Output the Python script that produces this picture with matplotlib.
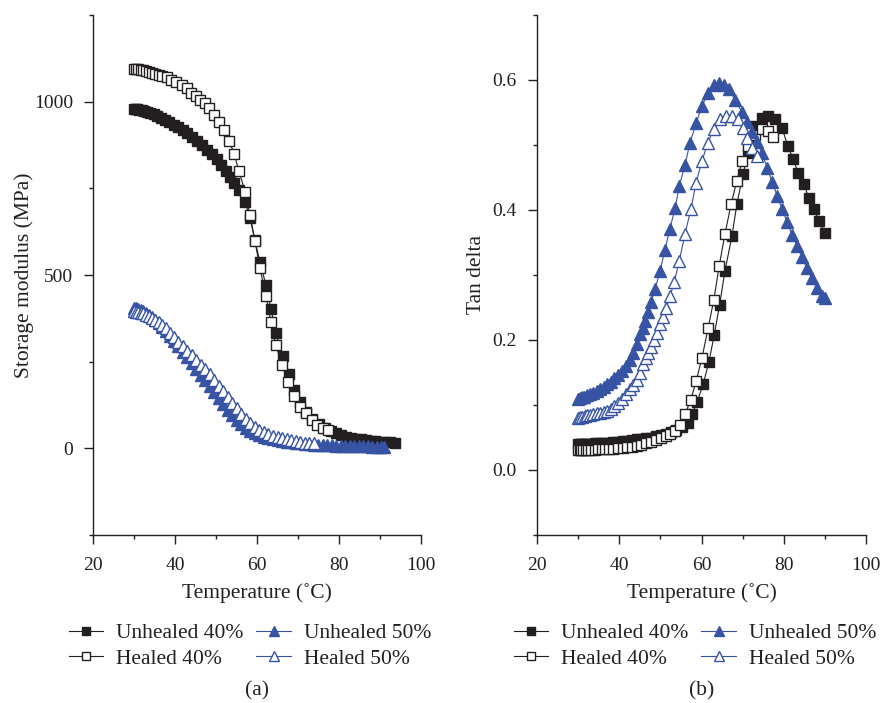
"""DMA curves: storage modulus (a) and tan delta (b) for unhealed/healed samples."""

import matplotlib

matplotlib.use("Agg")

import matplotlib.pyplot as plt  # noqa: E402
from matplotlib.ticker import MultipleLocator  # noqa: E402

plt.rcParams["font.family"] = ["Liberation Serif", "DejaVu Serif"]
plt.rcParams["font.size"] = 14

INK = "#231f20"
BLUE = "#3753a4"

LABELS = ["Unhealed 40%", "Healed 40%", "Unhealed 50%", "Healed 50%"]

# ---- (a) storage modulus, MPa ----
t_e_u40 = [30.0, 30.4, 30.8, 31.3, 31.9, 32.5, 33.2, 34.0, 34.8, 35.7, 36.6, 37.6,
           38.6, 39.7, 40.8, 41.9, 43.0, 44.2, 45.4, 46.6, 47.8, 49.0, 50.2, 51.3,
           52.4, 53.4, 54.5, 55.6, 57.1, 58.3, 59.5, 60.7, 62.2, 63.4, 64.6, 66.3,
           67.8, 69.0, 70.5, 72.0, 73.4, 75.0, 76.5, 78.0, 79.3, 80.5, 81.7, 82.9,
           84.1, 85.3, 86.5, 87.7, 88.9, 90.1, 91.3, 92.5, 93.7]
e_u40 = [980, 979, 978, 977, 975, 973, 970, 967, 963, 958, 953, 947,
         941, 934, 926, 918, 909, 898, 887, 875, 862, 848, 834, 818,
         800, 782, 765, 745, 711, 665, 600, 538, 470, 402, 332, 266,
         214, 168, 133, 105, 85, 70, 58, 49, 43, 38, 34, 31,
         28, 26, 24, 22, 21, 19, 18, 17, 16]

t_e_h40 = [30.0, 30.5, 31.0, 31.6, 32.2, 32.9, 33.6, 34.4, 35.2, 36.0, 36.9, 38.0,
           39.1, 40.3, 41.6, 42.9, 44.0, 45.1, 46.1, 47.2, 48.3, 49.5, 50.7, 52.0,
           53.2, 54.4, 55.6, 57.1, 58.3, 59.5, 60.7, 62.2, 63.4, 64.6, 66.1, 67.6,
           69.0, 70.5, 71.9, 73.4, 74.7, 76.1, 77.3]
e_h40 = [1095, 1094, 1093, 1092, 1090, 1088, 1086, 1083, 1080, 1077, 1074, 1070,
         1063, 1056, 1047, 1038, 1025, 1015, 1006, 995, 983, 962, 942, 919,
         887, 850, 800, 740, 673, 598, 520, 439, 364, 298, 240, 191,
         150, 118, 101, 81, 66, 60, 52]

t_e_u50 = [30.0, 30.5, 31.0, 31.6, 32.2, 32.9, 33.6, 34.4, 35.2, 36.0, 36.9, 37.8,
           38.8, 39.8, 40.8, 41.9, 43.0, 44.1, 45.2, 46.3, 47.4, 48.5, 49.6, 50.7,
           51.8, 52.9, 54.0, 55.1, 56.2, 57.3, 58.4, 59.5, 60.6, 61.7, 62.8, 63.9,
           65.0, 66.1, 67.2, 68.3, 69.4, 70.5, 71.6, 72.7, 73.8, 74.9, 76.0, 77.1,
           78.2, 79.3, 80.4, 81.5, 82.6, 83.7, 84.8, 85.9, 87.0, 88.1, 89.2, 90.3, 91.0]
e_u50 = [405, 404, 402, 399, 396, 391, 386, 379, 371, 362, 351, 339,
         325, 310, 295, 279, 263, 246, 229, 212, 196, 180, 163, 146,
         129, 112, 97, 83, 71, 60, 51, 44, 38, 33, 29, 26,
         23, 21, 19, 17, 15.5, 14, 13, 12, 11, 10, 9.5, 9,
         8.5, 8, 7.5, 7, 6.6, 6.3, 6, 5.7, 5.4, 5.1, 4.8, 4.5, 4.3]

t_e_h50 = [30.0, 30.5, 31.0, 31.6, 32.2, 32.9, 33.6, 34.4, 35.2, 36.0, 36.9, 37.8,
           38.8, 39.8, 40.8, 41.9, 43.0, 44.1, 45.2, 46.3, 47.4, 48.5, 49.6, 50.7,
           51.8, 52.9, 54.0, 55.1, 56.2, 57.3, 58.4, 59.5, 60.6, 61.7, 62.8, 63.9,
           65.0, 66.1, 67.2, 68.3, 69.4, 70.5, 71.6, 72.7, 73.8]
e_h50 = [395, 394, 393, 391, 389, 386, 382, 377, 371, 364, 356, 346,
         334, 321, 308, 294, 281, 268, 254, 240, 228, 213, 197, 181,
         164, 148, 132, 115, 100, 85, 73, 62, 54, 47, 42, 37,
         33, 29, 26, 23, 20, 18, 16, 15, 14]

# ---- (b) tan delta ----
t_d_u40 = [30.0, 30.4, 30.8, 31.3, 31.9, 32.5, 33.2, 34.0, 34.8, 35.7, 36.6, 37.6,
           38.6, 39.7, 40.8, 41.9, 43.0, 44.2, 45.4, 46.6, 47.8, 49.0, 50.2, 51.4,
           52.6, 53.8, 55.2, 56.7, 57.7, 58.9, 60.4, 61.8, 63.1, 64.4, 65.7, 67.4,
           68.6, 70.1, 71.3, 73.0, 74.7, 76.2, 77.9, 79.6, 81.0, 82.3, 83.5, 84.9,
           86.1, 87.4, 88.6, 90.0]
d_u40 = [0.040, 0.040, 0.040, 0.040, 0.040, 0.040, 0.040, 0.041, 0.041, 0.041, 0.042, 0.042,
         0.043, 0.043, 0.044, 0.045, 0.046, 0.047, 0.048, 0.049, 0.050, 0.052, 0.054, 0.056,
         0.059, 0.062, 0.066, 0.072, 0.086, 0.104, 0.132, 0.166, 0.208, 0.254, 0.306, 0.360,
         0.409, 0.455, 0.488, 0.530, 0.542, 0.545, 0.540, 0.526, 0.498, 0.478, 0.457, 0.440,
         0.418, 0.401, 0.383, 0.365]

t_d_h40 = [30.0, 30.4, 30.8, 31.3, 31.9, 32.5, 33.2, 34.0, 34.8, 35.7, 36.6, 37.6,
           38.6, 39.7, 40.8, 41.9, 43.0, 44.2, 45.4, 46.6, 47.8, 49.0, 50.2, 51.3,
           52.4, 53.6, 54.8, 56.0, 57.4, 58.7, 60.1, 61.6, 63.0, 64.3, 65.7, 67.2,
           68.6, 69.9, 71.3, 73.0, 74.7, 76.2, 77.4]
d_h40 = [0.031, 0.031, 0.031, 0.031, 0.031, 0.031, 0.031, 0.031, 0.032, 0.032, 0.032, 0.033,
         0.033, 0.034, 0.034, 0.035, 0.036, 0.037, 0.039, 0.041, 0.043, 0.046, 0.049, 0.052,
         0.055, 0.060, 0.070, 0.086, 0.108, 0.137, 0.172, 0.218, 0.262, 0.314, 0.363, 0.409,
         0.445, 0.475, 0.498, 0.515, 0.524, 0.521, 0.513]

t_d_u50 = [30.0, 30.4, 30.9, 31.5, 32.2, 32.9, 33.7, 34.5, 35.3, 36.2, 37.0, 37.9,
           38.8, 39.7, 40.7, 41.6, 42.5, 43.3, 44.2, 45.0, 45.7, 46.3, 47.0, 47.7,
           48.7, 49.9, 51.1, 52.3, 53.6, 54.6, 56.0, 57.2, 58.7, 60.1, 61.6, 63.0,
           64.3, 65.5, 66.7, 68.1, 69.9, 71.1, 72.3, 73.5, 74.7, 76.0, 77.2, 78.4,
           79.6, 80.8, 82.0, 83.2, 84.4, 85.6, 86.8, 88.0, 89.2, 90.0]
d_u50 = [0.109, 0.111, 0.112, 0.113, 0.115, 0.117, 0.119, 0.121, 0.124, 0.127, 0.132, 0.136,
         0.141, 0.146, 0.152, 0.160, 0.169, 0.180, 0.194, 0.209, 0.219, 0.229, 0.243, 0.258,
         0.278, 0.306, 0.338, 0.371, 0.403, 0.437, 0.470, 0.503, 0.534, 0.560, 0.580, 0.592,
         0.595, 0.593, 0.586, 0.570, 0.550, 0.535, 0.520, 0.504, 0.488, 0.464, 0.443, 0.422,
         0.401, 0.382, 0.362, 0.345, 0.328, 0.311, 0.295, 0.280, 0.268, 0.265]

t_d_h50 = [30.0, 30.5, 31.0, 31.6, 32.2, 32.9, 33.7, 34.5, 35.3, 36.2, 37.0, 37.9,
           38.8, 39.7, 40.7, 41.6, 42.5, 43.4, 44.3, 45.0, 45.7, 46.4, 47.0, 47.7,
           48.4, 49.1, 49.9, 50.6, 51.4, 52.4, 53.4, 54.6, 56.0, 57.4, 58.7, 60.1,
           61.5, 63.0, 64.5, 66.0, 67.4, 68.9, 70.1, 71.1, 72.3, 73.5]
d_h50 = [0.080, 0.081, 0.082, 0.083, 0.084, 0.085, 0.086, 0.087, 0.088, 0.089, 0.091, 0.094,
         0.098, 0.103, 0.110, 0.117, 0.124, 0.131, 0.139, 0.150, 0.163, 0.172, 0.180, 0.190,
         0.200, 0.211, 0.224, 0.236, 0.250, 0.268, 0.290, 0.322, 0.363, 0.401, 0.442, 0.475,
         0.503, 0.524, 0.540, 0.545, 0.545, 0.540, 0.526, 0.511, 0.495, 0.483]


STYLES = [
    dict(color=INK, marker="s", mfc=INK, mec=INK),
    dict(color=INK, marker="s", mfc="white", mec=INK),
    dict(color=BLUE, marker="^", mfc=BLUE, mec=BLUE),
    dict(color=BLUE, marker="^", mfc="white", mec=BLUE),
]

LABEL_FS = 15.5


def draw(ax, series):
    handles = []
    for (x, y), style, label in zip(series, STYLES, LABELS):
        ms = 7.2 if style["marker"] == "s" else 8.0
        (h,) = ax.plot(x, y, lw=0.8, ms=ms, mew=1.0, label=label, **style)
        handles.append(h)
    for side in ("top", "right"):
        ax.spines[side].set_visible(False)
    for side in ("left", "bottom"):
        ax.spines[side].set_color(INK)
        ax.spines[side].set_linewidth(1.0)
    ax.tick_params(which="both", direction="out", colors=INK, labelsize=14)
    ax.tick_params(axis="x", pad=9)
    ax.tick_params(axis="y", pad=8)
    ax.tick_params(which="major", length=6.5, width=1.0)
    ax.tick_params(which="minor", length=3, width=1.0)
    ax.set_xlim(20, 100)
    ax.xaxis.set_major_locator(MultipleLocator(20))
    ax.xaxis.set_minor_locator(MultipleLocator(10))
    ax.set_xlabel("Temperature (˚C)", color=INK, fontsize=LABEL_FS, labelpad=7)
    return handles


fig = plt.figure(figsize=(8.85, 7.03), dpi=100)
ax_a = fig.add_axes([93 / 885, 168 / 703, 328 / 885, 520 / 703])
ax_b = fig.add_axes([537 / 885, 168 / 703, 329 / 885, 520 / 703])

h_a = draw(ax_a, [(t_e_u40, e_u40), (t_e_h40, e_h40), (t_e_u50, e_u50), (t_e_h50, e_h50)])
ax_a.set_ylim(-250, 1250)
ax_a.yaxis.set_major_locator(MultipleLocator(500))
ax_a.yaxis.set_minor_locator(MultipleLocator(250))
ax_a.set_ylabel("Storage modulus (MPa)", color=INK, fontsize=LABEL_FS, labelpad=0)

h_b = draw(ax_b, [(t_d_u40, d_u40), (t_d_h40, d_h40), (t_d_u50, d_u50), (t_d_h50, d_h50)])
ax_b.set_ylim(-0.1, 0.7)
ax_b.yaxis.set_major_locator(MultipleLocator(0.2))
ax_b.yaxis.set_minor_locator(MultipleLocator(0.1))
ax_b.yaxis.set_major_formatter(plt.FormatStrFormatter("%.1f"))
ax_b.set_ylabel("Tan delta", color=INK, fontsize=LABEL_FS, labelpad=5)

for handles, cx, tag in ((h_a, 250, "(a)"), (h_b, 695, "(b)")):
    fig.legend(handles, LABELS, ncol=2, loc="center", frameon=False,
               bbox_to_anchor=(cx / 885, 1 - 646 / 703), fontsize=LABEL_FS,
               handlelength=1.6, handletextpad=0.6, columnspacing=0.6,
               labelspacing=0.25, markerscale=0.85, labelcolor=INK)
    fig.text((cx + 7) / 885, 1 - 691 / 703, tag, ha="center", va="center",
             fontsize=LABEL_FS, color=INK)

fig.savefig("out.png", dpi=100)
